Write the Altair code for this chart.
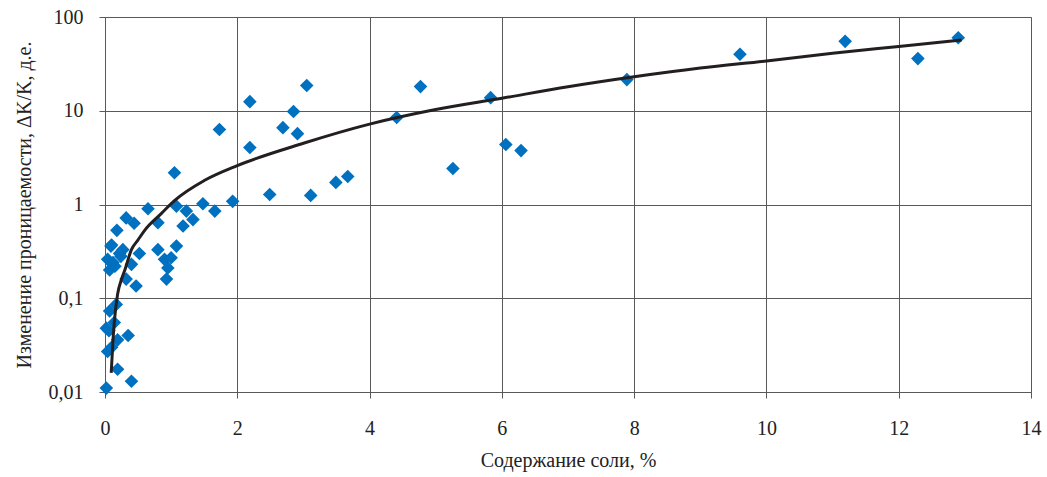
import altair as alt
import pandas as pd

# Scatter data (salt content %, permeability change)
salt = [12.9, 12.29, 11.19, 9.6, 7.89, 5.83, 6.06, 6.29, 5.26, 4.77, 4.41, 3.67, 3.49, 3.11,
        3.05, 2.91, 2.85, 2.69, 2.49, 2.19, 2.19, 1.73, 1.93, 1.66, 1.48, 1.33, 1.18, 1.23,
        1.08, 1.05, 0.65, 0.80, 0.32, 0.44, 0.18, 0.09, 0.27, 0.52, 0.80, 1.08, 0.90, 1.00,
        0.95, 0.04, 0.07, 0.40, 0.32, 0.47, 0.93, 0.17, 0.07, 0.02, 0.35, 0.19, 0.04, 0.19,
        0.40, 0.02, 0.12, 0.10, 0.14, 0.22, 0.06, 0.10, 0.24, 0.15]
perm = [60, 36, 55, 40, 21.5, 13.8, 4.36, 3.76, 2.42, 18.1, 8.47, 1.99, 1.72, 1.25,
        18.6, 5.7, 9.8, 6.6, 1.28, 4.05, 12.5, 6.3, 1.08, 0.85, 1.02, 0.69, 0.59, 0.85,
        0.96, 2.18, 0.9, 0.64, 0.72, 0.63, 0.53, 0.36, 0.33, 0.30, 0.33, 0.36, 0.26, 0.27,
        0.21, 0.26, 0.2, 0.23, 0.16, 0.135, 0.16, 0.086, 0.073, 0.048, 0.04, 0.036, 0.027, 0.0175,
        0.013, 0.011, 0.24, 0.37, 0.055, 0.30, 0.045, 0.03, 0.28, 0.22]

# Trend curve
trend_x = [0.094, 0.12, 0.14, 0.19, 0.25, 0.3, 0.4, 0.5, 0.6, 0.85, 1.05, 1.5, 2.0, 3.0,
           4.0, 5.0, 6.0, 7.0, 8.0, 9.0, 10.0, 11.0, 12.0, 12.95]
trend_y = [0.016, 0.035, 0.055, 0.11, 0.16, 0.2, 0.33, 0.42, 0.53, 0.8, 1.1, 1.8, 2.6, 4.5,
           7.2, 10.3, 13.6, 18, 23, 28.5, 34, 41, 48.5, 57]

x_ticks = [0, 2, 4, 6, 8, 10, 12, 14]
y_ticks = [0.01, 0.1, 1, 10, 100]

pts = pd.DataFrame({"x": salt, "y": perm})
trend = pd.DataFrame({"x": trend_x, "y": trend_y})

FONT = "Liberation Serif"

xs = alt.Scale(domain=[0, 14], nice=False, zero=False, padding=0)
ys = alt.Scale(type="log", domain=[0.01, 100], nice=False, padding=0)

xaxis = alt.Axis(values=x_ticks, title="Содержание соли, %", format="d",
                 labelFlush=False, labelPadding=20, titlePadding=12)
yaxis = alt.Axis(values=y_ticks, title="Изменение проницаемости, ΔK/K, д.е.",
                 labelPadding=16, labelFlush=False,
                 labelExpr="datum.value >= 1 ? format(datum.value, 'd') : replace(toString(datum.value), '.', ',')",
                 titlePadding=14)

scatter = alt.Chart(pts).mark_point(shape="diamond", filled=True, size=185,
                                    color="#0070C0", opacity=1).encode(
    x=alt.X("x:Q", scale=xs, axis=xaxis),
    y=alt.Y("y:Q", scale=ys, axis=yaxis),
)

line = alt.Chart(trend).mark_line(color="#231F20", strokeWidth=3,
                                  interpolate="monotone").encode(
    x=alt.X("x:Q", scale=xs),
    y=alt.Y("y:Q", scale=ys),
)

chart = alt.layer(scatter, line).properties(
    width=926, height=375,
    autosize=alt.AutoSizeParams(type="none"),
    padding={"left": 105, "top": 17, "right": 16, "bottom": 85},
).configure_view(stroke="#595959", strokeWidth=1).configure(
    background="white", font=FONT
).configure_axis(
    grid=True, gridColor="#595959", gridWidth=1, domainColor="#595959",
    tickColor="#595959", tickSize=6, labelFont=FONT, labelFontSize=20,
    labelColor="#222", titleFont=FONT, titleFontSize=20,
    titleFontWeight="normal", titleColor="#222",
)

chart.save("out.html", embed_options={"renderer": "svg", "actions": False})
